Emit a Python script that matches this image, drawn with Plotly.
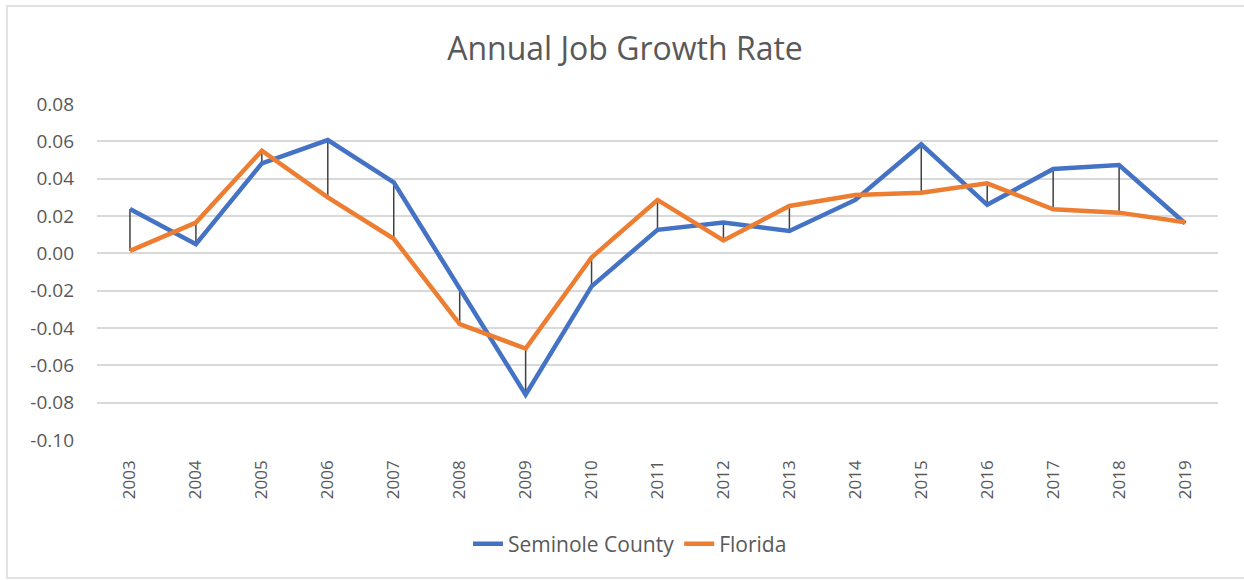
import plotly.graph_objects as go

years = [str(y) for y in range(2003, 2020)]
seminole = [0.0238, 0.0049, 0.0482, 0.0607, 0.0380, -0.0186, -0.0757, -0.0177, 0.0126, 0.0165,
            0.0120, 0.0286, 0.0584, 0.0260, 0.0452, 0.0473, 0.0161]
florida = [0.0013, 0.0165, 0.0550, 0.0300, 0.0078, -0.0379, -0.0510, -0.0022, 0.0286, 0.0069,
           0.0254, 0.0313, 0.0325, 0.0375, 0.0236, 0.0218, 0.0167]
y_ticks = [0.08, 0.06, 0.04, 0.02, 0.0, -0.02, -0.04, -0.06, -0.08, -0.10]
y_ticktext = ["0.08", "0.06", "0.04", "0.02", "0.00", "-0.02", "-0.04", "-0.06", "-0.08", "-0.10"]

# high-low connector lines between the two series
hx, hy = [], []
for yr, a, b in zip(years, seminole, florida):
    hx += [yr, yr, None]
    hy += [a, b, None]

fig = go.Figure()
fig.add_trace(go.Scatter(x=hx, y=hy, mode="lines", line=dict(color="#404040", width=1.5),
                         showlegend=False, hoverinfo="skip"))
fig.add_trace(go.Scatter(x=years, y=seminole, mode="lines", name="Seminole County",
                         line=dict(color="#4472C4", width=4.5)))
fig.add_trace(go.Scatter(x=years, y=florida, mode="lines", name="Florida",
                         line=dict(color="#ED7D31", width=4.5)))

L, R, T, B = 97, 26, 104, 140
pw = 1244 - L - R
ph = 580 - T - B
FONT = "Open Sans, Liberation Sans, sans-serif"

fig.update_layout(
    width=1244, height=580,
    margin=dict(l=L, r=R, t=T, b=B, autoexpand=False),
    paper_bgcolor="white", plot_bgcolor="white",
    font=dict(family=FONT, color="#595959", size=18),
    title=dict(text="Annual Job Growth Rate", x=(625 - L) / pw, xref="paper", xanchor="center",
               y=1 - 49 / 580, yanchor="middle", yref="container",
               font=dict(family=FONT, size=32, color="#595959")),
    xaxis=dict(type="category", range=[-0.5, 16.5], tickangle=-90, showgrid=False,
               showline=False, zeroline=False, ticks="",
               tickfont=dict(family=FONT, size=17, color="#595959"), ticklabelstandoff=16),
    yaxis=dict(range=[-0.10, 0.08], tickvals=y_ticks, ticktext=y_ticktext, showgrid=True,
               gridcolor="#D9D9D9", gridwidth=1.5, zeroline=False, showline=False, ticks="",
               tickfont=dict(family=FONT, size=19, color="#595959"), ticklabelstandoff=22),
    legend=dict(orientation="h", x=(630 - L) / pw, xanchor="center", y=-(544 - 440) / ph,
                yanchor="middle", font=dict(family=FONT, size=21, color="#595959"),
                itemwidth=30, tracegroupgap=0),
    shapes=[dict(type="rect", xref="paper", yref="paper",
                 x0=-(L - 7) / pw, x1=(1260 - L) / pw,
                 y0=-(578 - 440) / ph, y1=1 + (T - 6) / ph,
                 line=dict(color="#D9D9D9", width=1.5), fillcolor="rgba(0,0,0,0)", layer="below")],
)

fig.write_html("out.html", config={"displayModeBar": False},
               post_script="document.body.style.margin='0px';")
